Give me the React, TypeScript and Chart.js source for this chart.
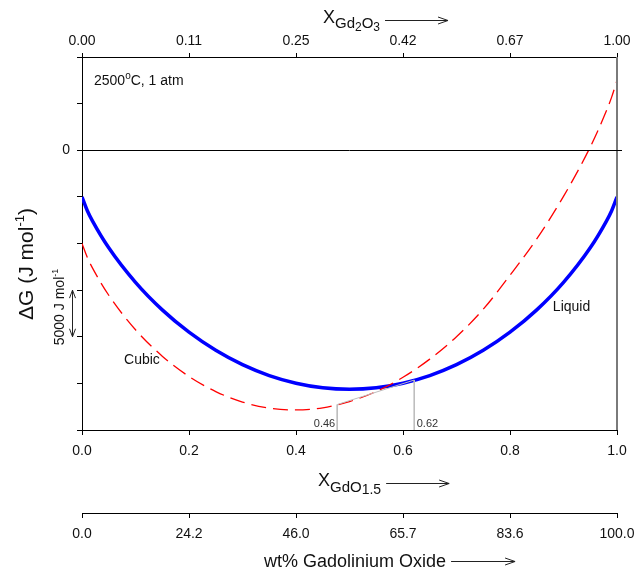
import React, { useEffect, useRef } from 'react';
import { Chart, registerables } from 'chart.js';

Chart.register(...registerables);

const FONT = '"Liberation Sans", Arial, Helvetica, sans-serif';

// Mole fraction GdO1.5
const compositionX = [0, 0.01, 0.02, 0.05, 0.1, 0.15, 0.2, 0.25, 0.3, 0.35, 0.4, 0.45, 0.5, 0.55, 0.6, 0.65, 0.7, 0.75, 0.8, 0.85, 0.9, 0.95, 0.98, 0.99, 1];
// Gibbs energy of mixing (J/mol)
const liquidG = [-5000, -6480, -7620, -10460, -14170, -17120, -19510, -21450, -22990, -24160, -24980, -25470, -25630, -25470, -24980, -24160, -22990, -21450, -19510, -17120, -14170, -10460, -7620, -6480, -5000];
const cubicG = [-10000, -11500, -12670, -15550, -19250, -22080, -24260, -25880, -27000, -27650, -27850, -27620, -26950, -25870, -24350, -22400, -20000, -17050, -13400, -9500, -4950, 350, 4200, 5700, 7500];

const tickPositions = [0, 0.2, 0.4, 0.6, 0.8, 1];
const bottomTickLabels = ['0.0', '0.2', '0.4', '0.6', '0.8', '1.0'];
const topTickLabels = ['0.00', '0.11', '0.25', '0.42', '0.67', '1.00'];
const wtTickLabels = ['0.0', '24.2', '46.0', '65.7', '83.6', '100.0'];

const tangentX = [0.477, 0.621];
const tangentG = [-27270, -24640];
const tangentLabels = ['0.46', '0.62'];

const yMin = -30000;
const yMax = 10000;
const yStep = 5000;

const phaseLabels = ['Cubic', 'Liquid'];
const phaseLabelX = [0.112, 0.915];
const phaseLabelG = [-22500, -16800];

type Part = { t: string; size: number; dy?: number };

function partsWidth(ctx: CanvasRenderingContext2D, parts: Part[]) {
  let w = 0;
  for (const p of parts) {
    ctx.font = `${p.size}px ${FONT}`;
    w += ctx.measureText(p.t).width;
  }
  return w;
}

function drawParts(ctx: CanvasRenderingContext2D, parts: Part[], x: number, y: number) {
  let cx = x;
  ctx.textAlign = 'left';
  ctx.textBaseline = 'alphabetic';
  for (const p of parts) {
    ctx.font = `${p.size}px ${FONT}`;
    ctx.fillText(p.t, cx, y + (p.dy || 0));
    cx += ctx.measureText(p.t).width;
  }
  return cx;
}

function seg(ctx: CanvasRenderingContext2D, x1: number, y1: number, x2: number, y2: number) {
  ctx.beginPath();
  ctx.moveTo(x1, y1);
  ctx.lineTo(x2, y2);
  ctx.stroke();
}

function arrowH(ctx: CanvasRenderingContext2D, x1: number, x2: number, y: number) {
  seg(ctx, x1, y, x2, y);
  ctx.beginPath();
  ctx.moveTo(x2 - 10, y - 3.5);
  ctx.lineTo(x2, y);
  ctx.lineTo(x2 - 10, y + 3.5);
  ctx.stroke();
}

function arrowV2(ctx: CanvasRenderingContext2D, x: number, y1: number, y2: number) {
  seg(ctx, x, y1, x, y2);
  ctx.beginPath();
  ctx.moveTo(x - 3, y1 + 8);
  ctx.lineTo(x, y1);
  ctx.lineTo(x + 3, y1 + 8);
  ctx.stroke();
  ctx.beginPath();
  ctx.moveTo(x - 3, y2 - 8);
  ctx.lineTo(x, y2);
  ctx.lineTo(x + 3, y2 - 8);
  ctx.stroke();
}

const decorPlugin = {
  id: 'decor',
  afterDraw(chart: any) {
    const { ctx, chartArea: ca, scales } = chart;
    const xs = scales.x;
    const ys = scales.y;
    ctx.save();

    // right frame
    ctx.strokeStyle = '#7a7a7a';
    ctx.lineWidth = 2;
    seg(ctx, ca.right, ca.top, ca.right, ca.bottom);

    // zero line
    const y0 = Math.round(ys.getPixelForValue(0)) + 0.5;
    ctx.strokeStyle = '#000';
    ctx.lineWidth = 1;
    seg(ctx, ca.left - 5, y0, ca.right + 5, y0);

    ctx.fillStyle = '#111';
    ctx.strokeStyle = '#222';
    ctx.lineWidth = 1;

    // top title X_Gd2O3
    let end = drawParts(ctx, [
      { t: 'X', size: 18 },
      { t: 'Gd', size: 15, dy: 5 },
      { t: '2', size: 12, dy: 8 },
      { t: 'O', size: 15, dy: 5 },
      { t: '3', size: 12, dy: 8 },
    ], 323, 23);
    arrowH(ctx, end + 5, end + 68, 20.5);

    // bottom title X_GdO1.5
    end = drawParts(ctx, [
      { t: 'X', size: 18 },
      { t: 'GdO', size: 15, dy: 6 },
      { t: '1.5', size: 14, dy: 8 },
    ], 318, 486);
    arrowH(ctx, end + 5, end + 68, 483.5);

    // wt% title
    end = drawParts(ctx, [{ t: 'wt% Gadolinium Oxide', size: 18 }], 264, 567);
    arrowH(ctx, end + 5, end + 69, 561.5);

    // y title (rotated)
    const yTitle: Part[] = [
      { t: '\u0394G (J mol', size: 21 },
      { t: '-1', size: 13, dy: -9 },
      { t: ')', size: 21 },
    ];
    ctx.save();
    ctx.translate(25, 264);
    ctx.rotate(-Math.PI / 2);
    drawParts(ctx, yTitle, -partsWidth(ctx, yTitle) / 2, 7.5);
    ctx.restore();

    // 5000 J mol-1 scale bar
    const scaleTxt: Part[] = [
      { t: '5000 J mol', size: 14 },
      { t: '-1', size: 9, dy: -6 },
    ];
    ctx.save();
    ctx.translate(59, 307);
    ctx.rotate(-Math.PI / 2);
    drawParts(ctx, scaleTxt, -partsWidth(ctx, scaleTxt) / 2, 5);
    ctx.restore();
    arrowV2(ctx, ca.left - 9.5, ys.getPixelForValue(-15000), ys.getPixelForValue(-20000));

    // condition text
    const cEnd = drawParts(ctx, [{ t: '2500', size: 14 }, { t: 'o', size: 10, dy: -6 }], ca.left + 12, ca.top + 28);
    drawParts(ctx, [{ t: 'C, 1 atm', size: 14 }], cEnd, ca.top + 28);

    // phase labels
    ctx.font = `14px ${FONT}`;
    ctx.textAlign = 'center';
    ctx.textBaseline = 'middle';
    phaseLabels.forEach((lab, i) => {
      ctx.fillText(lab, xs.getPixelForValue(phaseLabelX[i]), ys.getPixelForValue(phaseLabelG[i]));
    });

    // tangent labels
    ctx.font = `11px ${FONT}`;
    ctx.fillStyle = '#333';
    const yb = ys.getPixelForValue(yMin) - 6;
    ctx.textAlign = 'right';
    ctx.fillText(tangentLabels[0], xs.getPixelForValue(tangentX[0]) - 2, yb);
    ctx.textAlign = 'left';
    ctx.fillText(tangentLabels[1], xs.getPixelForValue(tangentX[1]) + 2.5, yb);

    ctx.restore();
  },
};

export default function App() {
  const ref = useRef<HTMLCanvasElement | null>(null);

  useEffect(() => {
    document.body.style.margin = '0';
    const canvas = ref.current;
    if (!canvas) return;

    const liquidData = compositionX.map((x, i) => ({ x, y: liquidG[i] }));
    const cubicData = compositionX.map((x, i) => ({ x, y: cubicG[i] }));
    const tangentData = tangentX.map((x, i) => ({ x, y: tangentG[i] }));

    const axisLine = { display: true, color: '#000', width: 1 };
    const tickFont = { family: FONT, size: 14 };

    const fitH = (h: number) => (s: any) => {
      s.height = h;
      s.paddingLeft = 0;
      s.paddingRight = 0;
    };

    const chart = new Chart(canvas, {
      type: 'scatter',
      data: {
        datasets: [
          {
            label: 'tangent',
            data: tangentData,
            showLine: true,
            borderColor: '#bdbdbd',
            borderWidth: 1,
            pointRadius: 0,
          },
          {
            label: 'drop1',
            data: [{ x: tangentX[0], y: tangentG[0] }, { x: tangentX[0], y: yMin }],
            showLine: true,
            borderColor: '#bdbdbd',
            borderWidth: 1,
            pointRadius: 0,
          },
          {
            label: 'drop2',
            data: [{ x: tangentX[1], y: tangentG[1] }, { x: tangentX[1], y: yMin }],
            showLine: true,
            borderColor: '#bdbdbd',
            borderWidth: 1,
            pointRadius: 0,
          },
          {
            label: 'Cubic',
            data: cubicData,
            showLine: true,
            borderColor: '#ff0000',
            borderWidth: 1.3,
            borderDash: [15, 7],
            pointRadius: 0,
            cubicInterpolationMode: 'monotone',
          },
          {
            label: 'Liquid',
            data: liquidData,
            showLine: true,
            borderColor: '#0000ff',
            borderWidth: 3.5,
            pointRadius: 0,
            cubicInterpolationMode: 'monotone',
          },
        ],
      },
      options: {
        responsive: false,
        animation: false,
        devicePixelRatio: 1,
        events: [],
        layout: { padding: { top: 0, left: 0, right: 17, bottom: 0 } },
        plugins: {
          legend: { display: false },
          tooltip: { enabled: false },
          title: { display: false },
        },
        scales: {
          x: {
            type: 'linear',
            position: 'bottom',
            min: 0,
            max: 1,
            weight: 0,
            afterBuildTicks: (s: any) => { s.ticks = tickPositions.map((v) => ({ value: v })); },
            afterFit: fitH(83),
            ticks: {
              autoSkip: false,
              maxRotation: 0,
              padding: 8,
              color: '#111',
              font: tickFont,
              callback: (_v: any, i: number) => bottomTickLabels[i],
            },
            grid: { drawOnChartArea: false, drawTicks: true, tickLength: 5, tickColor: '#000' },
            border: axisLine,
          },
          xWt: {
            type: 'linear',
            position: 'bottom',
            min: 0,
            max: 1,
            weight: 1,
            afterBuildTicks: (s: any) => { s.ticks = tickPositions.map((v) => ({ value: v })); },
            afterFit: fitH(60),
            ticks: {
              autoSkip: false,
              maxRotation: 0,
              padding: 8,
              color: '#111',
              font: tickFont,
              callback: (_v: any, i: number) => wtTickLabels[i],
            },
            grid: { drawOnChartArea: false, drawTicks: true, tickLength: 5, tickColor: '#000' },
            border: axisLine,
          },
          xTop: {
            type: 'linear',
            position: 'top',
            min: 0,
            max: 1,
            afterBuildTicks: (s: any) => { s.ticks = tickPositions.map((v) => ({ value: v })); },
            afterFit: fitH(57),
            ticks: {
              autoSkip: false,
              maxRotation: 0,
              padding: 3,
              color: '#111',
              font: tickFont,
              callback: (_v: any, i: number) => topTickLabels[i],
            },
            grid: { drawOnChartArea: false, drawTicks: true, tickLength: 4, tickColor: '#000' },
            border: axisLine,
          },
          y: {
            type: 'linear',
            position: 'left',
            min: yMin,
            max: yMax,
            afterFit: (s: any) => { s.width = 82; s.paddingTop = 0; s.paddingBottom = 0; },
            ticks: {
              stepSize: yStep,
              autoSkip: false,
              padding: 7,
              color: '#111',
              font: tickFont,
              callback: (v: any) => (Number(v) === 0 ? '0' : ''),
            },
            grid: { drawOnChartArea: false, drawTicks: true, tickLength: 5, tickColor: '#000' },
            border: axisLine,
          },
        },
      } as any,
      plugins: [decorPlugin],
    });

    return () => chart.destroy();
  }, []);

  return (
    <canvas ref={ref} width={634} height={573} style={{ display: 'block', width: 634, height: 573 }} />
  );
}
